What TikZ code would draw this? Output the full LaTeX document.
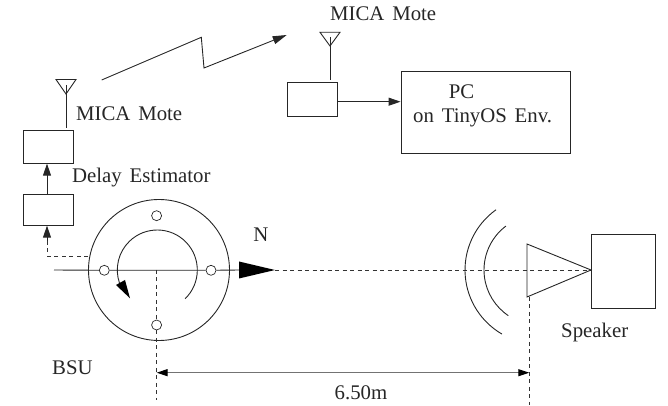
\documentclass[tikz,border=0pt]{standalone}
\usepackage{fontspec}
\setmainfont[WordSpace=1.5]{Liberation Serif}
\usetikzlibrary{arrows.meta,calc}
\tikzset{
  x=1pt,y=1pt,
  ln/.style={line width=0.9pt,black!85},
  dsh/.style={line width=0.6pt,black!80,dash pattern=on 4pt off 3.5pt},
  tipa/.style={-{Triangle[length=12pt,width=8pt]}},
  blockbox/.style={draw,line width=0.9pt,black!85,inner sep=0,minimum width=#1},
  lbl/.style={inner sep=0,font=\fontsize{20.8}{23}\selectfont,text=black!85},
  hole/.style={circle,draw,line width=0.7pt,black!85,minimum size=10pt,inner sep=0},
}
\begin{document}
\begin{tikzpicture}
\useasboundingbox (0,0) rectangle (668,406);
% boxes
\node[blockbox=50pt,minimum height=33pt] (mote1) at (48.3,259.3) {};
\node[blockbox=50pt,minimum height=31pt] (delay) at (48.3,196.3) {};
\node[blockbox=50pt,minimum height=34pt] (mote2) at (312,307) {};
\node[blockbox=169pt,minimum height=82pt] (pc) at (485.5,293.3) {};
\node[blockbox=64pt,minimum height=74pt] (spk) at (623,135) {};
% coordinates
\coordinate (cc) at (159,136);
\coordinate (aL) at (54,136);
\coordinate (aB) at (240,136);
\coordinate (aT) at (275,136);
\coordinate (tA) at (527,162);
\coordinate (tB) at (527,109);
\coordinate (tC) at (591,136);
% rotor
\node[circle,draw,line width=0.9pt,black!85,minimum size=141pt,inner sep=0] (rotor) at (cc) {};
\node[hole] (h1) at (156.6,190.3) {};
\node[hole] (h2) at (104.3,135.7) {};
\node[hole] (h3) at (211,135.7) {};
\node[hole] (h4) at (156.6,81) {};
\draw[ln] ($(157.3,136)+(-46:40)$) arc[start angle=-46,end angle=199,radius=40];
\fill[black] (116,121) -- (125,126) -- (130,107.7) -- cycle;
% axis
\draw[ln] (aL) -- (h2) (h2) -- (h3) (h3) -- (aB);
\fill[black] (239,144.5) -- (aT) -- (239,127.5) -- cycle;
\draw[dsh] (aT) -- (tC);
% speaker
\draw[ln] (tA) -- (tC) -- (tB) -- cycle;
\draw[ln] (539,136)++(125.5:74) arc[start angle=125.5,end angle=240,radius=74];
\draw[ln] (539,136)++(127:55) arc[start angle=127,end angle=236,radius=55];
% dimension
\coordinate (dL) at (156.6,33.3);
\coordinate (dR) at (529.3,33.3);
\coordinate (vL) at (156.6,6);
\coordinate (vR) at (529.3,1);
\draw[dsh] (156.6,136) -- (h4) (h4) -- (vL);
\draw[dsh] (529.3,109) -- (vR);
\draw[line width=1.1pt,black!55,{Triangle[length=11pt,width=7pt,black]}-{Triangle[length=11pt,width=7pt,black]}] (dL) -- (dR);
% dashed link
\coordinate (dk) at (47,150);
\draw[dsh] (rotor.west |- 0,150) -- (dk) -- ++(0,15);
\draw[tipa,ln] (47,165) -- (delay.south -| 47,0);
\draw[tipa,ln] (delay.north -| 47,0) -- (mote1.south -| 47,0);
% antennas
\draw[ln] (56,326.5) -- (76,326.5) -- (66,312) -- cycle;
\draw[ln] (66,321) -- (66,278.3);
\draw[ln] (320,373.7) -- (340,373.7) -- (330,360) -- cycle;
\draw[ln] (330,369) -- (330,326);
\draw[tipa,ln] (mote2.east |- 0,304.3) -- (pc.west |- 0,304.3);
% zigzag
\draw[ln,-{Triangle[length=14pt,width=8pt]}] (101.7,326) -- (201.3,368.7) -- (204,338) -- (286.7,371);
% labels
\node[lbl,anchor=west] (t1) at (76,292) {MICA Mote};
\node[lbl,anchor=west] (t2) at (330,392) {MICA Mote};
\node[lbl] (t3) at (461.5,314) {PC};
\node[lbl,anchor=west] (t4) at (413,288) {on TinyOS Env.};
\node[lbl,anchor=west] (t5) at (72,228) {Delay Estimator};
\node[lbl] (t6) at (261,171) {N};
\node[lbl,anchor=west] (t7) at (52,38) {BSU};
\node[lbl,anchor=west] (t8) at (561,73) {Speaker};
\node[lbl] (t9) at (361,13) {6.50m};
\end{tikzpicture}
\end{document}
